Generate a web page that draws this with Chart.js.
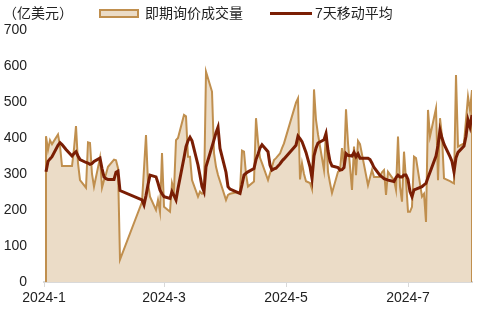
<!DOCTYPE html>
<html>
<head>
<meta charset="utf-8">
<script src="https://cdn.jsdelivr.net/npm/chart.js@4.4.1/dist/chart.umd.min.js"></script>
<style>
  html, body { margin: 0; padding: 0; background: #fff; }
  #wrap { width: 485px; height: 311px; }
</style>
</head>
<body>
<div id="wrap"><canvas id="chart"></canvas></div>
<script>
// 2024 dates (MM-DD)
const dates = [
    '01-02','01-03','01-04','01-05','01-08','01-09','01-10','01-11','01-12','01-15',
    '01-16','01-17','01-18','01-19','01-22','01-23','01-24','01-25','01-26','01-29',
    '01-30','01-31','02-01','02-02','02-05','02-06','02-07','02-08','02-19','02-20',
    '02-21','02-22','02-23','02-26','02-27','02-28','02-29','03-01','03-04','03-05',
    '03-06','03-07','03-08','03-11','03-12','03-13','03-14','03-15','03-18','03-19',
    '03-20','03-21','03-22','03-25','03-26','03-27','03-28','03-29','04-01','04-02',
    '04-03','04-07','04-08','04-09','04-10','04-11','04-12','04-15','04-16','04-17',
    '04-18','04-19','04-22','04-23','04-24','04-25','04-26','04-28','04-29','04-30',
    '05-06','05-07','05-08','05-09','05-10','05-11','05-13','05-14','05-15','05-16',
    '05-17','05-20','05-21','05-22','05-23','05-24','05-27','05-28','05-29','05-30',
    '05-31','06-01','06-03','06-04','06-05','06-06','06-07','06-11','06-12','06-13',
    '06-14','06-17','06-18','06-19','06-20','06-21','06-24','06-25','06-26','06-27',
    '06-28','06-29','06-30','07-01','07-02','07-03','07-04','07-05','07-08','07-09',
    '07-10','07-11','07-12','07-15','07-16','07-17','07-18','07-19','07-22','07-23',
    '07-24','07-25','07-26','07-29','07-30','07-31','08-01','08-02'
];
// 即期询价成交量 (亿美元)
const volume = [
    405, 367, 394, 383, 410, 378, 322, 322, 322, 322,
    370, 433, 330, 283, 262, 388, 386, 300, 265, 345,
    262, 283, 300, 320, 340, 338, 316, 62, 222, 315,
    408, 275, 237, 200, 228, 195, 358, 209, 195, 275,
    255, 394, 400, 464, 460, 348, 348, 283, 237, 251,
    245, 248, 584, 529, 358, 320, 297, 280, 228, 242,
    245, 250, 251, 365, 362, 300, 265, 279, 455, 390,
    345, 330, 283, 302, 320, 339, 344, 357, 372, 385,
    498, 510, 285, 330, 300, 280, 275, 258, 535, 450,
    410, 311, 420, 306, 275, 247, 306, 310, 372, 320,
    480, 386, 256, 376, 297, 392, 383, 269, 290, 311,
    292, 292, 305, 311, 242, 306, 283, 256, 404, 265,
    223, 362, 283, 195, 195, 209, 348, 344, 237, 245,
    167, 478, 404, 482, 283, 455, 404, 288, 280, 277,
    274, 575, 376, 385, 450, 515, 478, 533
];
// 7天移动平均
const ma7 = [
    306, 335, 342, 348, 380, 387, 382, 375, 368, 350,
    357, 362, 350, 340, 332, 330, 327, 329, 335, 344,
    315, 292, 287, 285, 285, 305, 308, 254, 228, 214,
    240, 270, 297, 292, 275, 255, 245, 237, 232, 251,
    240, 228, 260, 345, 376, 392, 402, 392, 325, 295,
    265, 251, 320, 376, 395, 415, 430, 371, 305, 265,
    258, 248, 246, 270, 297, 302, 306, 315, 340, 355,
    372, 381, 362, 325, 311, 314, 316, 328, 336, 342,
    380, 405, 398, 390, 375, 360, 320, 288, 350, 372,
    386, 395, 412, 365, 335, 322, 318, 311, 312, 318,
    357, 352, 350, 360, 348, 356, 344, 344, 340, 330,
    318, 296, 292, 287, 285, 283, 279, 290, 297, 292,
    292, 297, 297, 285, 251, 237, 256, 258, 265, 270,
    274, 290, 305, 350, 380, 422, 400, 383, 348, 335,
    306, 345, 360, 378, 405, 450, 431, 464
];
const tickDates = ['01-01', '03-01', '05-01', '07-01'];
const tickLabels = ['2024-1', '2024-3', '2024-5', '2024-7'];
const axisEnd = '08-02';

const dayOf = (s) => {
    const [m, d] = s.split('-').map(Number);
    return (Date.UTC(2024, m - 1, d) - Date.UTC(2024, 0, 1)) / 86400000;
};
const days = dates.map(dayOf);
const tickDays = tickDates.map(dayOf);

const FONT = '"Liberation Sans", Arial, "Noto Sans CJK SC", sans-serif';
const TAN = '#c08f4e';
const TAN_FILL = '#ebdcc7';
const RED = '#7a1e04';

// area border runs down to zero at both ends
const areaPoints = [{ x: days[0], y: 0 }]
    .concat(days.map((x, i) => ({ x, y: volume[i] })))
    .concat([{ x: days[days.length - 1], y: 0 }]);
const maPoints = days.map((x, i) => ({ x, y: ma7[i] }));

const header = {
    id: 'header',
    afterDraw(chart) {
        const ctx = chart.ctx;
        const ds = chart.data.datasets;
        ctx.save();
        ctx.font = '14px ' + FONT;
        ctx.fillStyle = '#222';
        ctx.textBaseline = 'middle';
        ctx.fillText('（亿美元）', 3, 14);

        ctx.fillStyle = TAN_FILL;
        ctx.fillRect(100, 10, 38, 7);
        ctx.strokeStyle = TAN;
        ctx.lineWidth = 2;
        ctx.strokeRect(100, 10, 38, 7);
        ctx.fillStyle = '#222';
        ctx.fillText(ds[1].label, 145, 14);

        ctx.strokeStyle = RED;
        ctx.lineWidth = 3;
        ctx.beginPath();
        ctx.moveTo(270, 13.5);
        ctx.lineTo(312, 13.5);
        ctx.stroke();
        ctx.fillText(ds[0].label, 315, 14);
        ctx.restore();
    },
};

new Chart(document.getElementById('chart'), {
    type: 'line',
    data: {
        datasets: [
            {
                label: '7天移动平均',
                data: maPoints,
                borderColor: RED,
                borderWidth: 3,
                pointRadius: 0,
                fill: false,
                order: 0,
            },
            {
                label: '即期询价成交量',
                data: areaPoints,
                borderColor: TAN,
                backgroundColor: TAN_FILL,
                borderWidth: 2,
                pointRadius: 0,
                fill: 'origin',
                order: 1,
            },
        ],
    },
    options: {
        responsive: true,
        maintainAspectRatio: false,
        animation: false,
        layout: { padding: { top: 30, right: 13, left: 0, bottom: 0 } },
        plugins: {
            legend: { display: false },
            tooltip: { enabled: false },
        },
        scales: {
            x: {
                type: 'linear',
                min: 0,
                max: dayOf(axisEnd),
                afterBuildTicks: (axis) => {
                    axis.ticks = tickDays.map((v) => ({ value: v }));
                },
                afterFit: (s) => { s.height = 29; },
                grid: {
                    drawOnChartArea: false,
                    drawTicks: true,
                    tickLength: 5,
                    color: '#d9d9d9',
                },
                border: { display: true, color: '#d9d9d9', width: 2 },
                ticks: {
                    autoSkip: false,
                    maxRotation: 0,
                    padding: 3,
                    color: '#222',
                    font: { family: FONT, size: 14 },
                    callback: (v) => tickLabels[tickDays.indexOf(v)],
                },
            },
            y: {
                min: 0,
                max: 700,
                afterFit: (s) => { s.width = 44; },
                grid: { display: false, drawTicks: false },
                border: { display: false },
                ticks: {
                    stepSize: 100,
                    padding: 17,
                    color: '#222',
                    font: { family: FONT, size: 14 },
                },
            },
        },
    },
    plugins: [header],
});
</script>
</body>
</html>
